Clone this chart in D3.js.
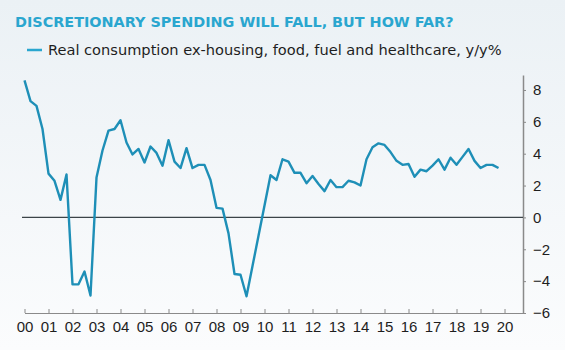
<!DOCTYPE html>
<html>
<head>
<meta charset="utf-8">
<script src="https://cdn.jsdelivr.net/npm/d3@7"></script>
<style>
    body { margin: 0; }
    svg { display: block; }
</style>
</head>
<body>
<svg id="chart"></svg>
<script>
// Real consumption ex-housing, food, fuel and healthcare, y/y% (quarterly, 2000Q1 - 2019Q4)
const startYear = 2000;
const spending = [
    8.6, 7.3, 7.0, 5.55,
    2.75, 2.3, 1.1, 2.7,
    -4.2, -4.2, -3.4, -4.9,
    2.5, 4.2, 5.45, 5.55,
    6.1, 4.7, 3.95, 4.3,
    3.45, 4.45, 4.05, 3.25,
    4.85, 3.5, 3.1, 4.35,
    3.1, 3.3, 3.3, 2.35,
    0.6, 0.55, -1.0, -3.55,
    -3.6, -4.95, -3.05, -1.15,
    0.75, 2.65, 2.35, 3.65,
    3.5, 2.8, 2.8, 2.15,
    2.6, 2.1, 1.65, 2.35,
    1.9, 1.9, 2.3, 2.2,
    2.0, 3.65, 4.4, 4.65,
    4.55, 4.1, 3.55, 3.3,
    3.35, 2.55, 3.0, 2.9,
    3.25, 3.65, 3.0, 3.75,
    3.3, 3.8, 4.3, 3.55,
    3.1, 3.3, 3.3, 3.1,
];
const yearTicks = d3.range(2000, 2021);
const yearLabels = yearTicks.map((y) => String(y % 100).padStart(2, '0'));
const valueTicks = [-6, -4, -2, 0, 2, 4, 6, 8];

const title = 'DISCRETIONARY SPENDING WILL FALL, BUT HOW FAR?';
const legendLabel = 'Real consumption ex-housing, food, fuel and healthcare, y/y%';

const width = 565,
    height = 350;
const lineColor = '#1e8fb7';

const svg = d3.select('#chart').attr('width', width).attr('height', height);

// soft background fading to white
const grad = svg.append('defs').append('linearGradient').attr('id', 'bg').attr('x1', 0).attr('y1', 0).attr('x2', 0).attr('y2', 1);
grad.append('stop').attr('offset', '0%').attr('stop-color', '#ebf1f5');
grad.append('stop').attr('offset', '100%').attr('stop-color', '#fbfcfd');
svg.append('rect').attr('width', width).attr('height', height).attr('fill', 'url(#bg)');

const points = spending.map((v, i) => ({ t: startYear + i / 4, v }));

const xScale = d3.scaleLinear().domain([2000, 2020.77]).range([24.5, 523]);
const yScale = d3.scaleLinear().domain([-6, 8.94]).range([313, 75]);

// title + legend
svg.append('text')
    .attr('x', 15)
    .attr('y', 27)
    .attr('font-family', 'DejaVu Sans, sans-serif')
    .attr('font-weight', 'bold')
    .attr('font-size', 14.4)
    .attr('fill', '#2aa6cf')
    .text(title);

svg.append('line')
    .attr('x1', 27)
    .attr('x2', 42)
    .attr('y1', 50)
    .attr('y2', 50)
    .attr('stroke', '#2aa6cf')
    .attr('stroke-width', 2.5);

svg.append('text')
    .attr('x', 48)
    .attr('y', 55)
    .attr('font-family', 'DejaVu Sans, sans-serif')
    .attr('font-size', 14.6)
    .attr('fill', '#1e1e1e')
    .text(legendLabel);

// bottom axis (years)
const xAxis = d3
    .axisBottom(xScale)
    .tickValues(yearTicks)
    .tickSize(-4)
    .tickSizeOuter(0)
    .tickFormat((d, i) => yearLabels[i]);

const gx = svg.append('g').attr('transform', `translate(0,${yScale(-6)})`).call(xAxis);
gx.select('.domain').attr('stroke', '#8a8a8a').attr('stroke-width', 1.2);
gx.selectAll('.tick line').attr('stroke', '#8a8a8a');
gx.selectAll('.tick text')
    .attr('y', 8)
    .attr('font-family', 'Liberation Sans, Arial, sans-serif')
    .attr('font-size', 15)
    .attr('fill', '#1e1e1e');

// right axis (values)
const yAxis = d3.axisRight(yScale).tickValues(valueTicks).tickSize(3).tickSizeOuter(0);

const gy = svg.append('g').attr('transform', `translate(${xScale.range()[1]},0)`).call(yAxis);
gy.select('.domain').attr('stroke', '#8a8a8a').attr('stroke-width', 1.5);
gy.selectAll('.tick line').attr('stroke', '#8a8a8a');
gy.selectAll('.tick text')
    .attr('x', 10)
    .attr('font-family', 'Liberation Sans, Arial, sans-serif')
    .attr('font-size', 15)
    .attr('fill', '#1e1e1e');

// zero line
svg.append('line')
    .attr('x1', 22)
    .attr('x2', xScale.range()[1])
    .attr('y1', yScale(0))
    .attr('y2', yScale(0))
    .attr('stroke', '#3c4448')
    .attr('stroke-width', 1.3);

// the series
const line = d3
    .line()
    .x((d) => xScale(d.t))
    .y((d) => yScale(d.v));

svg.append('path')
    .datum(points)
    .attr('d', line)
    .attr('fill', 'none')
    .attr('stroke', lineColor)
    .attr('stroke-width', 2.4)
    .attr('stroke-linejoin', 'round');
</script>
</body>
</html>
